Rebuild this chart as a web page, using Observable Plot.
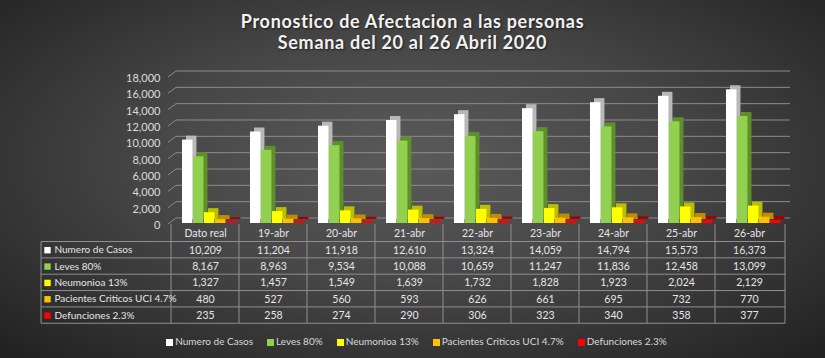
<!DOCTYPE html>
<html>
<head>
<meta charset="utf-8">
<script src="https://cdn.jsdelivr.net/npm/d3@7"></script>
<script src="https://cdn.jsdelivr.net/npm/@observablehq/plot@0.6"></script>
<style>
  html, body { margin: 0; padding: 0; }
  body {
    width: 825px; height: 358px; overflow: hidden;
    background: radial-gradient(ellipse 70% 75% at 50% 45%, #5a5a5a 0%, #474747 45%, #2c2c2c 85%, #222 100%);
    font-family: Lato, "Open Sans", sans-serif;
  }
  #title {
    height: 55px; box-sizing: border-box; padding-top: 11px;
    text-align: center; color: #f2f2f2; font-weight: bold; font-size: 18px;
    line-height: 21px; letter-spacing: 0.7px;
    text-shadow: 1px 1px 2px rgba(0,0,0,0.6);
  }
  #legend {
    display: flex; justify-content: center; align-items: center; gap: 14px;
    height: 22px; margin-top: 0px; padding-left: 8px;
    color: #d9d9d9; font-size: 10px;
  }
  #legend span.sw { display: inline-block; width: 7px; height: 7px; margin-right: 2px; vertical-align: -0.5px; }
</style>
</head>
<body>
<div id="title">Pronostico de Afectacion a las personas<br>Semana del 20 al 26 Abril 2020</div>
<div id="chart"></div>
<div id="legend"></div>
<script>
const categories = ["Dato real", "19-abr", "20-abr", "21-abr", "22-abr", "23-abr", "24-abr", "25-abr", "26-abr"];
const seriesNames = ["Numero de Casos", "Leves 80%", "Neumonioa 13%", "Pacientes Criticos UCI 4.7%", "Defunciones 2.3%"];
const casos = [10209, 11204, 11918, 12610, 13324, 14059, 14794, 15573, 16373];
const leves = [8167, 8963, 9534, 10088, 10659, 11247, 11836, 12458, 13099];
const neumonia = [1327, 1457, 1549, 1639, 1732, 1828, 1923, 2024, 2129];
const criticos = [480, 527, 560, 593, 626, 661, 695, 732, 770];
const defunciones = [235, 258, 274, 290, 306, 323, 340, 358, 377];
const yTicks = [0, 2000, 4000, 6000, 8000, 10000, 12000, 14000, 16000, 18000];

const seriesValues = [casos, leves, neumonia, criticos, defunciones];
const frontColors = ["#ffffff", "#92d050", "#ffff00", "#ffc000", "#ff0000"];
const sideColors = ["#b8b8b8", "#5f8f2a", "#bdbd00", "#c08c00", "#a80000"];

const W = 825, H = 275, ML = 168, MR = 40, MT = 21, MB = 107;
const bw = (W - ML - MR) / categories.length;
const barW = 11, barStart = 11;
const rowH = 16.35, firstRow = 26.7, firstLine = 18.5;

const rows = categories.map((c, i) => {
  const o = {cat: c};
  seriesNames.forEach((s, k) => o[s] = seriesValues[k][i]);
  return o;
});

const marks = [];

// back wall gridlines with slanted left wall edge
marks.push((index, scales, values, dim) => {
  const g = d3.create("svg:g");
  const x0 = dim.marginLeft, x1 = dim.width - dim.marginRight;
  for (const t of yTicks) {
    const yy = scales.y(t);
    g.append("path")
      .attr("d", `M${x0},${yy + 1}L${x0 + 8},${yy - 5}H${x1 + 5}`)
      .attr("fill", "none").attr("stroke", "#8c8c8c").attr("stroke-width", 1);
  }
  return g.node();
});

// 3D bars: darker offset copy behind, front face on top
seriesNames.forEach((s, k) => {
  const insetLeft = barStart + barW * k;
  const insetRight = bw - insetLeft - barW;
  marks.push(Plot.barY(rows, {x: "cat", y: s, fill: sideColors[k], insetLeft, insetRight, dx: 4, dy: -4}));
  marks.push(Plot.barY(rows, {x: "cat", y: s, fill: frontColors[k], insetLeft, insetRight}));
});

// y axis labels
marks.push(Plot.axisY(yTicks, {tickSize: 0, tickPadding: 8, tickFormat: d3.format(","), fill: "#dcdcdc", fontSize: 11, dy: 2, label: null}));

// data table grid
marks.push((index, scales, values, dim) => {
  const g = d3.create("svg:g").attr("stroke", "#8f8f8f").attr("stroke-width", 1).attr("fill", "none");
  const base = dim.height - dim.marginBottom;
  const x0 = dim.marginLeft, x1 = dim.width - dim.marginRight;
  const bottom = base + firstLine + rowH * seriesNames.length;
  const labelLeft = 41;
  for (let k = 0; k <= seriesNames.length; k++) {
    const yy = base + firstLine + rowH * k;
    g.append("line").attr("x1", labelLeft).attr("x2", x1).attr("y1", yy).attr("y2", yy);
  }
  for (let i = 0; i <= categories.length; i++) {
    const xx = i < categories.length ? scales.x(categories[i]) : x1;
    g.append("line").attr("x1", xx).attr("x2", xx).attr("y1", base + 1).attr("y2", bottom);
  }
  g.append("line").attr("x1", labelLeft).attr("x2", labelLeft).attr("y1", base + firstLine).attr("y2", bottom);
  return g.node();
});

// header row (categories)
marks.push(Plot.text(categories, {x: d => d, frameAnchor: "bottom", lineAnchor: "middle", dy: 10, fill: "#e6e6e6", fontSize: 10.5}));

// data rows
seriesNames.forEach((s, k) => {
  const dy = firstRow + rowH * k;
  marks.push(Plot.text(rows, {x: "cat", frameAnchor: "bottom", lineAnchor: "middle", dy, text: d => d3.format(",")(d[s]), fill: "#e6e6e6", fontSize: 10.5}));
  marks.push(Plot.dot([s], {frameAnchor: "bottom-left", dx: -(ML - 47), dy, symbol: "square", r: 3.6, fill: frontColors[k], stroke: null}));
  marks.push(Plot.text([s], {frameAnchor: "bottom-left", lineAnchor: "middle", dx: -(ML - 54), dy, text: d => d, textAnchor: "start", fill: "#e6e6e6", fontSize: 10}));
});

const chart = Plot.plot({
  width: W, height: H,
  marginLeft: ML, marginRight: MR, marginTop: MT, marginBottom: MB,
  style: {background: "transparent", color: "#dcdcdc", fontFamily: "Lato, 'Open Sans', sans-serif", fontSize: "11px", overflow: "visible"},
  x: {type: "band", domain: categories, padding: 0, axis: null},
  y: {domain: [0, 18000], axis: null},
  marks
});
document.getElementById("chart").appendChild(chart);

const legend = document.getElementById("legend");
seriesNames.forEach((s, k) => {
  const item = document.createElement("div");
  item.innerHTML = `<span class="sw" style="background:${frontColors[k]}"></span>${s}`;
  legend.appendChild(item);
});
</script>
</body>
</html>
